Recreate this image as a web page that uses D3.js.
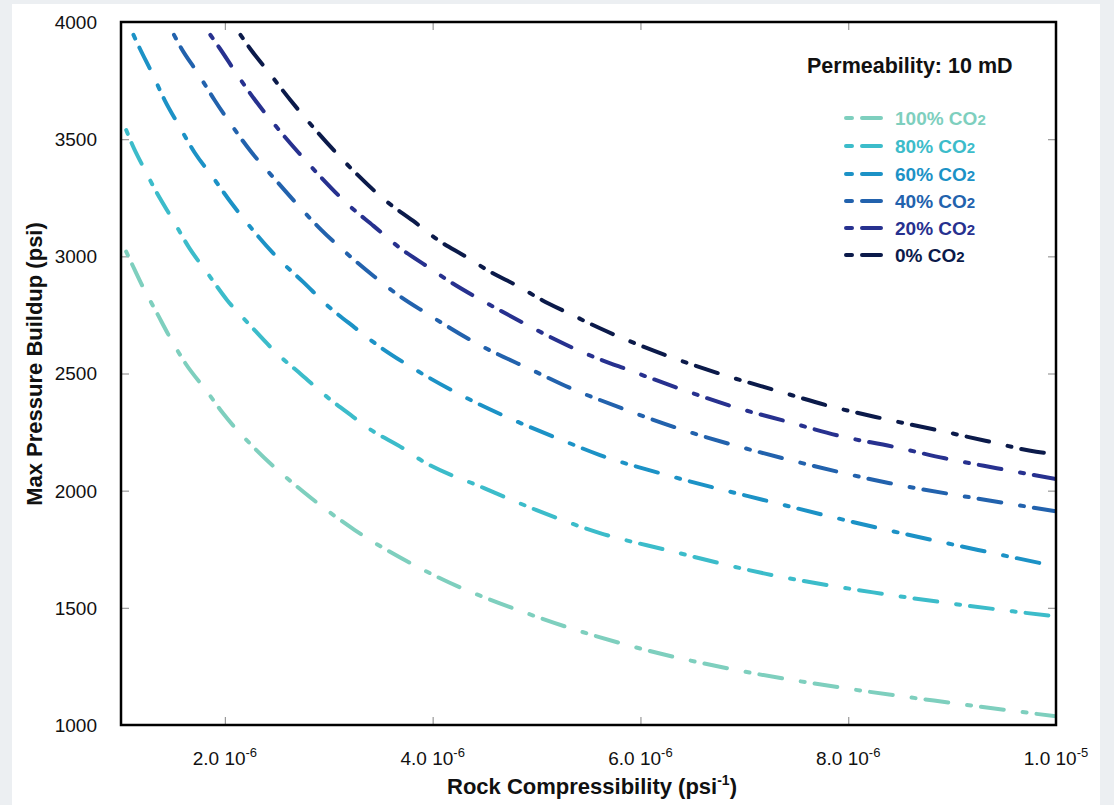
<!DOCTYPE html>
<html>
<head>
<meta charset="utf-8">
<script src="https://cdn.jsdelivr.net/npm/d3@7"></script>
<style>
  html, body { margin: 0; padding: 0; background: #eceff2; }
  svg { display: block; font-family: "Liberation Sans", Arial, sans-serif; }
</style>
</head>
<body>
<svg id="chart" width="1114" height="805"></svg>
<script>
// ---- data (x in units of 1e-6 psi^-1, y in psi) ----
const seriesNames = ["100% CO", "80% CO", "60% CO", "40% CO", "20% CO", "0% CO"];
const seriesColors = ["#7ecfbe", "#3cbcca", "#1c92c6", "#2262ad", "#27318f", "#0b1a4a"];

const co2_100 = [[1.05,3020],[1.11,2963],[1.22,2861],[1.33,2771],[1.5,2631],[1.61,2550],[1.84,2416],[1.98,2331],[2.27,2188],[2.77,1990],[3.25,1832],[4,1642],[5,1462],[6,1326],[7,1228],[8,1155],[9,1094],[10,1037]];
const co2_80 = [[1.05,3539],[1.11,3475],[1.23,3368],[1.33,3283],[1.5,3155],[1.66,3034],[1.83,2930],[2.02,2814],[2.24,2707],[2.5,2586],[2.74,2494],[3,2394],[3.24,2313],[3.36,2273],[3.75,2171],[3.86,2138],[4.5,2010],[5,1917],[5.61,1819],[6.25,1747],[7.21,1645],[8.24,1566],[9,1518],[10,1463]];
const co2_60 = [[1.12,3945],[1.18,3888],[1.30,3781],[1.42,3667],[1.56,3556],[1.71,3442],[1.88,3340],[2.07,3223],[2.27,3112],[2.51,2992],[2.75,2892],[3.0,2785],[3.25,2696],[3.51,2608],[3.75,2539],[4.25,2413],[4.74,2309],[5.26,2213],[5.61,2152],[6.25,2067],[7.25,1953],[8.24,1846],[9.25,1747],[10,1677]];
const co2_40 = [[1.51,3945],[1.58,3888],[1.74,3781],[1.90,3667],[2.07,3556],[2.26,3442],[2.47,3335],[2.69,3225],[2.93,3112],[3.19,3006],[3.44,2913],[3.69,2828],[3.94,2757],[4.42,2629],[4.94,2518],[5.43,2418],[5.61,2387],[6.41,2259],[7.41,2134],[8.40,2032],[9.43,1953],[10,1912]];
const co2_20 = [[1.86,3945],[1.95,3888],[2.11,3781],[2.29,3667],[2.49,3556],[2.71,3442],[2.92,3340],[3.19,3219],[3.43,3130],[3.69,3034],[3.94,2959],[4.18,2888],[4.42,2825],[4.70,2757],[4.94,2700],[5.19,2643],[5.43,2593],[5.93,2508],[6.43,2427],[6.91,2356],[7.42,2294],[7.92,2233],[8.43,2188],[8.93,2138],[9.43,2096],[10,2050]];
const co2_0 = [[2.15,3945],[2.24,3888],[2.43,3781],[2.63,3667],[2.84,3556],[3.2,3382],[3.56,3233],[3.81,3152],[4.05,3070],[4.31,3001],[4.55,2935],[4.82,2873],[5.05,2814],[5.31,2757],[5.61,2693],[6.28,2572],[6.80,2494],[7.31,2427],[7.82,2361],[8.32,2309],[8.82,2262],[9.32,2213],[9.81,2166],[10,2155]];
const seriesData = [co2_100, co2_80, co2_60, co2_40, co2_20, co2_0];

const xTicks = [2, 4, 6, 8, 10];
const xTickMantissa = ["2.0", "4.0", "6.0", "8.0", "1.0"];
const xTickExponent = ["-6", "-6", "-6", "-6", "-5"];
const yTicks = [1000, 1500, 2000, 2500, 3000, 3500, 4000];
const yInnerTicks = [1500, 2000, 2500, 3000, 3500];
const xInnerTicks = [2, 4, 6, 8];

// ---- layout ----
const L = 121, R = 1056, T = 22, B = 725;
const svg = d3.select("#chart");

svg.append("rect").attr("x", 0).attr("y", 0).attr("width", 1114).attr("height", 805).attr("fill", "#eceff2");
svg.append("rect").attr("x", 12).attr("y", 4).attr("width", 1088).attr("height", 801).attr("fill", "#ffffff");

const x = d3.scaleLinear().domain([1, 10]).range([L, R]);
const y = d3.scaleLinear().domain([1000, 4000]).range([B, T]);

// inner ticks
const tickStyle = g => { g.select(".domain").remove(); g.selectAll("line").attr("stroke", "#999").attr("stroke-width", 1.2); };
svg.append("g").attr("transform", `translate(${L},0)`).call(d3.axisLeft(y).tickValues(yInnerTicks).tickSize(-8).tickFormat("")).call(tickStyle);
svg.append("g").attr("transform", `translate(${R},0)`).call(d3.axisRight(y).tickValues(yInnerTicks).tickSize(-8).tickFormat("")).call(tickStyle);
svg.append("g").attr("transform", `translate(0,${B})`).call(d3.axisBottom(x).tickValues(xInnerTicks).tickSize(-8).tickFormat("")).call(tickStyle);
svg.append("g").attr("transform", `translate(0,${T})`).call(d3.axisTop(x).tickValues(xInnerTicks).tickSize(-8).tickFormat("")).call(tickStyle);

// clip
svg.append("clipPath").attr("id", "plotclip").append("rect")
  .attr("x", L).attr("y", T).attr("width", R - L).attr("height", B - T);

// curves
const line = d3.line().x(d => x(d[0])).y(d => y(d[1])).curve(d3.curveMonotoneX);
const curves = svg.append("g").attr("clip-path", "url(#plotclip)");
seriesData.forEach((data, i) => {
  curves.append("path")
    .datum(data)
    .attr("d", line)
    .attr("fill", "none")
    .attr("stroke", seriesColors[i])
    .attr("stroke-width", 4)
    .attr("stroke-linecap", "round")
    .attr("stroke-dasharray", "4,10,23,19");
});

// frame
svg.append("rect").attr("x", L).attr("y", T).attr("width", R - L).attr("height", B - T)
  .attr("fill", "none").attr("stroke", "#000").attr("stroke-width", 2.5);

// y tick labels
svg.append("g").selectAll("text").data(yTicks).join("text")
  .attr("x", 97).attr("y", d => y(d)).attr("dy", "0.36em")
  .attr("text-anchor", "end").attr("font-size", 19).attr("fill", "#111")
  .text(d => d);

// x tick labels
const xl = svg.append("g").selectAll("text").data(xTicks).join("text")
  .attr("x", d => x(d)).attr("y", 765)
  .attr("text-anchor", "middle").attr("font-size", 19).attr("fill", "#111");
xl.append("tspan").text((d, i) => xTickMantissa[i] + " 10");
xl.append("tspan").attr("font-size", 13).attr("dy", -8).text((d, i) => xTickExponent[i]);

// axis titles
const xt = svg.append("text").attr("x", 592).attr("y", 794).attr("text-anchor", "middle")
  .attr("font-size", 22).attr("font-weight", "bold").attr("fill", "#111");
xt.append("tspan").text("Rock Compressibility (psi");
xt.append("tspan").attr("font-size", 14).attr("dy", -9).text("-1");
xt.append("tspan").attr("dy", 9).text(")");

svg.append("text").attr("transform", "translate(42,364) rotate(-90)")
  .attr("text-anchor", "middle").attr("font-size", 22).attr("font-weight", "bold").attr("fill", "#111")
  .text("Max Pressure Buildup (psi)");

// legend
svg.append("text").attr("x", 807).attr("y", 73).attr("font-size", 21.5).attr("font-weight", "bold")
  .attr("fill", "#111").text("Permeability: 10 mD");

const legendRows = [125, 153, 181, 208, 235, 262];
const lg = svg.append("g");
seriesNames.forEach((name, i) => {
  const by = legendRows[i];
  lg.append("path")
    .attr("d", `M846,${by - 7}H881`)
    .attr("stroke", seriesColors[i]).attr("stroke-width", 4).attr("stroke-linecap", "round")
    .attr("stroke-dasharray", "6,10,19,100").attr("fill", "none");
  const t = lg.append("text").attr("x", 895).attr("y", by)
    .attr("font-size", 19).attr("font-weight", "bold").attr("fill", seriesColors[i]);
  t.append("tspan").text(name);
  t.append("tspan").attr("font-size", 15).text("2");
});
</script>
</body>
</html>
